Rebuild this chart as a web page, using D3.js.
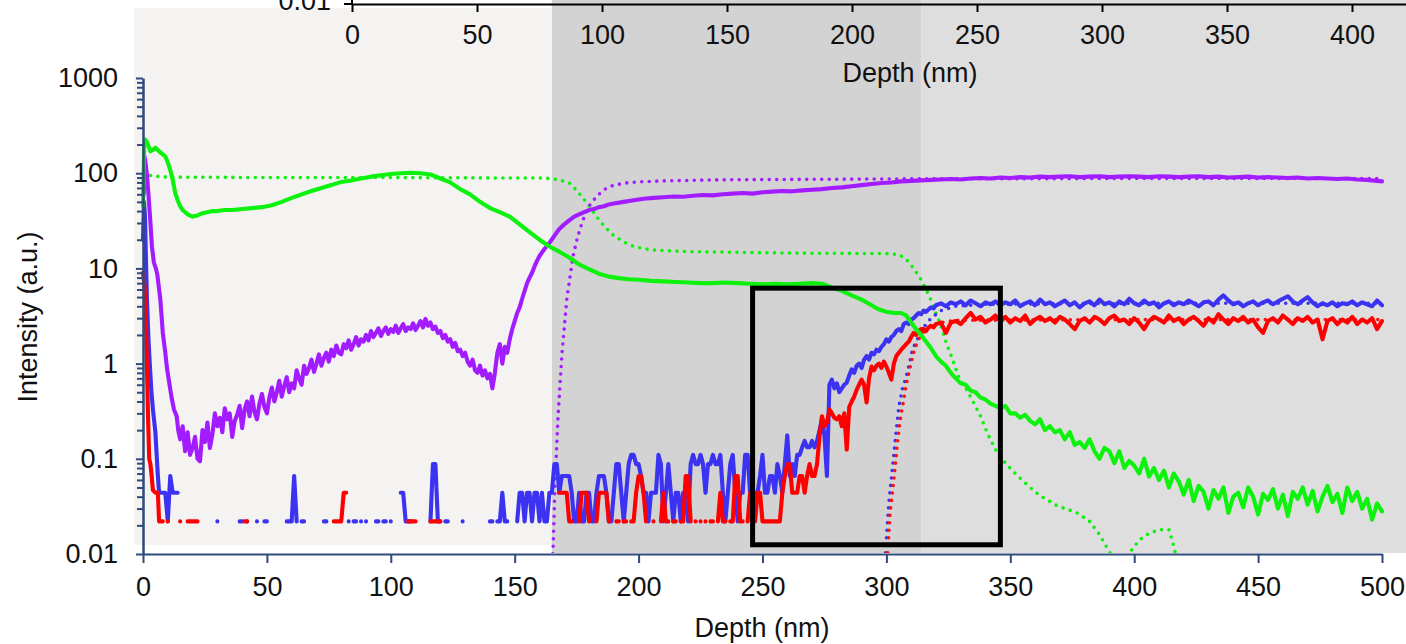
<!DOCTYPE html>
<html lang="en">
<head>
<meta charset="UTF-8">
<title>Depth profile</title>
<script src="https://d3js.org/d3.v7.min.js"></script>
<style>
  body { margin: 0; background: #ffffff; }
  text { font-family: "Liberation Sans", Arial, sans-serif; }
</style>
</head>
<body>
<script>
// ---- data (depth in nm, intensity in a.u.) ----
var xTicks = [0, 50, 100, 150, 200, 250, 300, 350, 400, 450, 500];
var topTicks = [0, 50, 100, 150, 200, 250, 300, 350, 400];
var yMajor = [0.01, 0.1, 1, 10, 100, 1000];
var yLabels = ["0.01", "0.1", "1", "10", "100", "1000"];

// shaded depth zones
var zoneEdges = [-3.6, 165, 314, 510];
var boxDepth = [246, 346];
var boxIntensity = [0.0125, 6.2];

var greenSolid = [[0,45],[0.5,200],[1,225],[2,200],[3,170],[4,175],[5,185],[6,175],[7,165],[8,158],[9,150],[10,130],[11,108],[12,85],[13,62],[14,52],[15,45],[16,41],[18,37],[20,35],[22,36],[24,38],[26,39],[28,40],[30,40],[33,41],[36,41],[40,42],[44,43],[48,44],[52,46],[56,50],[60,55],[64,60],[68,65],[72,70],[76,75],[80,81],[84,84],[88,88],[92,92],[96,95],[100,98],[104,100],[108,101],[112,100],[116,97],[120,88],[124,80],[128,68],[132,60],[136,50],[140,43],[144,39],[148,35],[152,29],[156,24],[160,20],[164,17],[168,15],[172,13],[176,11],[180,9.8],[184,8.8],[188,8.2],[192,7.9],[196,7.7],[200,7.6],[205,7.4],[210,7.3],[215,7.2],[220,7.1],[225,7.0],[230,7.0],[235,7.1],[240,7.0],[245,6.9],[250,6.8],[255,6.9],[260,6.8],[265,6.9],[270,7.0],[274,6.9],[278,6.3],[282,5.8],[286,5.2],[290,4.7],[294,4.1],[297,3.7],[300,3.5],[303,3.4],[306,3.4],[308,3.2],[310,2.7],[312,2.3],[314,2.0],[316,1.7],[318,1.45],[320,1.2],[322,1.05],[324,0.95],[326,0.8],[328,0.7],[330,0.62],[332,0.6],[334,0.52],[336,0.5],[338,0.44],[340,0.42],[342,0.38],[344,0.36],[346,0.34],[348,0.36],[350,0.3],[352,0.3],[354,0.27],[356,0.29],[358,0.25],[360,0.23],[362,0.26],[364,0.2],[366,0.22],[368,0.19],[370,0.2],[372,0.16],[374,0.19],[376,0.14],[378,0.15],[380,0.13],[382,0.16],[384,0.12],[386,0.1],[388,0.13],[390,0.12],[392,0.09],[394,0.12],[396,0.08],[398,0.095],[400,0.085],[402,0.07],[404,0.1],[406,0.065],[408,0.08],[410,0.06],[412,0.075],[414,0.05],[416,0.07],[418,0.058],[420,0.042],[422,0.06],[424,0.036],[426,0.052],[428,0.045],[430,0.03],[432,0.047],[434,0.038],[436,0.05],[438,0.027],[440,0.04],[442,0.044],[444,0.031],[446,0.05],[448,0.04],[450,0.026],[452,0.043],[454,0.037],[456,0.048],[458,0.03],[460,0.042],[462,0.025],[464,0.045],[466,0.038],[468,0.05],[470,0.033],[472,0.046],[474,0.028],[476,0.04],[478,0.052],[480,0.035],[482,0.043],[484,0.027],[486,0.05],[488,0.036],[490,0.045],[492,0.03],[494,0.038],[496,0.023],[498,0.034],[500,0.028]];

var greenModel = [[0,97],[5,93],[10,91],[50,90],[100,90],[150,89],[160,89],[164,88],[168,85],[172,79],[175,66],[178,53],[181,42],[183,35],[186,28],[190,22],[194,19],[198,17],[203,16],[207,15.5],[220,15],[260,14.5],[300,14.3],[305,14],[308,12.5],[311,10],[314,7.6],[317,5.3],[319,4],[322,2.5],[324,1.7],[327,1.05],[329,0.74],[333,0.5],[338,0.28],[341,0.18],[344,0.125],[348,0.09],[353,0.066],[358,0.05],[362,0.041],[369,0.032],[377,0.027],[382,0.022],[386,0.016],[390,0.0105],[393,0.0085],[396,0.0088],[399,0.011],[402,0.014],[406,0.0165],[410,0.018],[414,0.018],[416,0.012],[418,0.007],[420,0.004]];

var purpleSolid = [[0.3,60],[0.6,150],[1,130],[1.6,95],[2.2,60],[3,30],[3.6,17],[4.4,11.5],[5.2,10],[5.8,8.5],[6.5,6],[7,4.7],[8,2.1],[9,1.3],[9.6,0.93],[10.5,0.65],[11.6,0.43],[12.5,0.33],[13.6,0.28],[14.2,0.2],[15,0.16],[16,0.22],[17,0.12],[18,0.19],[19,0.11],[20,0.13],[21,0.17],[22,0.1],[23,0.094],[24,0.2],[25,0.15],[26,0.24],[27,0.13],[28,0.18],[29,0.3],[30,0.22],[31,0.27],[32,0.19],[33,0.34],[34,0.26],[35,0.3],[36,0.17],[37,0.25],[38,0.29],[39,0.36],[40,0.21],[41,0.33],[42,0.4],[43,0.28],[44,0.45],[45,0.31],[46,0.26],[47,0.38],[48,0.48],[49,0.35],[50,0.3],[51,0.44],[52,0.56],[53,0.4],[54,0.5],[55,0.66],[56,0.45],[57,0.58],[58,0.72],[59,0.5],[60,0.62],[61,0.55],[62,0.85],[63,0.7],[64,0.6],[65,0.95],[66,0.78],[67,0.9],[68,1.1],[69,0.82],[70,1.0],[71,1.25],[72,0.95],[73,1.15],[74,1.3],[75,1.05],[76,1.4],[77,1.2],[78,1.55],[79,1.3],[80,1.25],[81,1.6],[82,1.45],[83,1.75],[84,1.4],[85,1.6],[86,1.9],[87,1.55],[88,1.8],[89,1.7],[90,2.0],[91,1.75],[92,2.2],[93,1.9],[94,2.1],[95,2.35],[96,1.95],[97,2.2],[98,2.4],[99,2.05],[100,2.3],[101,2.15],[102,2.5],[103,2.1],[104,2.35],[105,2.6],[106,2.2],[107,2.4],[108,2.3],[109,2.65],[110,2.25],[111,2.5],[112,2.8],[113,2.4],[114,2.95],[115,2.5],[116,2.7],[117,2.3],[118,2.45],[119,2.1],[120,2.2],[121,1.85],[122,2.0],[123,1.7],[124,1.8],[125,1.5],[126,1.65],[127,1.35],[128,1.4],[129,1.2],[130,1.3],[131,1.05],[132,0.95],[133,1.1],[134,0.85],[135,0.8],[136,0.95],[137,0.75],[138,0.85],[139,0.7],[140,0.78],[141,0.55],[142,0.8],[143,1.3],[144,1.6],[145,1.0],[146,1.5],[147,1.3],[148,1.8],[149,2.3],[150,2.8],[151,3.4],[152,3.9],[153,4.8],[154,5.8],[155,7],[156,8],[157,9],[158,10.5],[159,12],[160,13.5],[162,16],[164,18.5],[166,22],[168,26],[170,29],[172,32],[174,35],[176,37],[178,39],[180,41],[182,42],[184,44],[186,45],[188,47],[190,48],[194,50],[198,52],[202,54],[206,55],[210,56],[214,57],[218,56.5],[222,58],[226,59],[230,58.5],[234,60],[238,61],[242,62],[246,61],[250,63],[254,64],[258,65],[262,64.5],[266,66],[270,67],[274,68],[278,70],[282,71],[286,73],[290,75],[294,77],[298,79],[302,80],[306,82],[310,83],[314,84],[318,85],[322,86],[326,87],[330,86],[334,88],[338,89],[342,88],[346,90],[350,89],[354,91],[358,90],[362,92],[366,91],[370,92],[374,93],[378,91],[382,92],[386,93],[390,91],[394,92],[398,93],[402,92],[406,91],[410,93],[414,92],[418,91],[422,92],[426,93],[430,91],[434,92],[438,90],[442,91],[446,92],[450,90],[454,91],[458,90],[462,89],[466,90],[470,88],[474,89],[478,88],[482,87],[486,88],[490,86],[494,85],[498,83],[500,82]];

var purpleModel = [[165,0.007],[165.5,0.0115],[166.3,0.057],[167.5,0.28],[169,1.2],[171,4.7],[173.5,13.3],[175.5,22],[177.5,32],[180,45],[183,57],[186,67],[190,75],[195,79],[200,81],[210,83],[230,85],[260,86],[300,87],[400,88],[500,88]];

// single-count level of the low-signal channels
var countUnit = 0.022;

var blueHead = [[0,20],[0.4,50],[0.8,35],[1.2,12],[1.6,4.7],[2.2,1.8],[2.8,0.93],[3.4,0.5],[4,0.33],[5,0.19],[5.6,0.1],[6,0.066],[6.5,0.044],[7,0.044]];
var blueCountStart = 8;
var blueCounts = [
  2,2,1,3,2,2,2,0,0,0, 0,0,0,0,0,0,0,0,0,0, 0,0,1,0,0,0,0,0,0,0,
  0,1,1,0,1,0,0,0,1,0, 0,1,1,0,0,0,0,0,0,0, 1,1,1,3,1,0,1,1,0,0,
  0,0,0,0,0,1,1,0,0,0, 0,0,0,0,0,1,0,1,1,0, 1,0,1,0,0,0,1,1,0,1,
  1,0,1,0,0,0,2,2,1,1, 1,0,0,0,0,0,0,0,1,4, 4,1,1,0,1,1,0,0,0,0,
  0,1,0,0,0,0,0,0,0,0, 0,0,1,1,0,1,1,2,1,1, 0,0,0,1,2,2,1,2,2,1,
  2,2,1,2,1,1,2,2,4,4, 2,3,3,3,3,2,1,1,2,1, 1,2,2,1,1,2,3,3,3,2,
  1,1,2,4,4,2,1,2,4,5, 5,4,4,3,2,2,1,2,2,2, 5,4,1,2,4,2,1,2,2,1,
  2,2,1,4,5,4,4,5,4,2, 4,4,5,4,4,5,2,1,2,4, 5,2,1,2,2,5,5,2,1,2,
  2,3,5,2,2,3,3,2,4,3, 2,4,8,3,4,3,5,5,6,7, 6,6,7,6,7,9,12,8,3];
var blueHigh = [[277,0.6],[278,0.68],[279,0.55],[280,0.62],[281,0.5],[282,0.55],[283,0.6],[284,0.63],[285,0.75],[286,0.87],[287,0.8],[288,0.95],[289,1.0],[290,0.9],[291,1.1],[292,1.2],[293,1.1],[294,1.3],[295,1.25],[296,1.4],[297,1.35],[298,1.5],[299,1.6],[300,1.8],[301,1.7],[302,1.9],[303,2.0],[304,2.2],[305,2.3],[306,2.2],[307,2.6],[308,2.7],[309,2.6],[310,2.9],[311,3.0],[312,3.2],[313,3.4],[314,3.3],[315,3.6],[316,3.5],[317,3.7],[318,3.9],[319,3.8],[320,4.1],[322,4.3],[324,4.0],[326,4.4],[328,4.2],[330,4.5],[332,4.1],[334,4.6],[336,4.3],[338,4.0],[340,4.4],[342,4.2],[344,4.5],[346,4.1],[348,4.4],[350,4.2],[352,4.6],[354,4.0],[356,4.3],[358,4.5],[360,4.1],[362,4.7],[364,4.2],[366,4.4],[368,4.0],[370,4.3],[372,4.6],[374,4.1],[376,4.4],[378,3.9],[380,4.3],[382,4.5],[384,4.1],[386,4.7],[388,4.2],[390,4.4],[392,4.0],[394,4.5],[396,4.2],[398,4.8],[400,4.3],[402,4.1],[404,4.6],[406,4.2],[408,4.4],[410,3.9],[412,4.3],[414,4.5],[416,4.1],[418,4.4],[420,4.2],[422,4.6],[424,4.3],[426,4.0],[428,4.4],[430,4.5],[432,4.1],[434,4.7],[436,5.2],[438,4.6],[440,4.2],[442,4.4],[444,4.0],[446,4.3],[448,4.5],[450,4.1],[452,4.4],[454,4.6],[456,4.2],[458,4.5],[460,4.8],[462,5.1],[464,4.5],[466,4.2],[468,4.6],[470,5.0],[472,4.4],[474,4.0],[476,4.3],[478,4.1],[480,4.4],[482,4.0],[484,4.3],[486,4.2],[488,4.5],[490,4.1],[492,4.4],[494,4.2],[496,4.0],[498,4.6],[500,4.1]];

var redHead = [[0,9],[0.5,7],[1,4.7],[1.5,1.2],[2,0.3],[2.5,0.1],[3,0.088],[3.5,0.066],[4,0.047],[5,0.044],[6,0.044],[6.5,0.022]];
var redCountStart = 7;
var redCounts = [
  1,1,0,1,0,0,0,0,1,0, 0,1,1,1,1,1,0,0,0,0, 0,0,0,0,0,0,0,0,0,0,
  0,0,0,0,1,1,0,0,0,0, 0,0,0,0,0,0,0,0,0,0, 0,0,0,0,0,0,0,0,0,0,
  0,0,0,0,0,0,0,0,0,0, 1,1,1,1,2,2,0,0,0,0, 0,0,0,0,0,0,0,0,0,0,
  0,0,0,0,0,0,0,0,0,0, 1,1,1,1,0,0,0,0,0,1, 1,1,1,1,0,0,0,0,0,0,
  0,0,0,0,0,0,0,0,0,0, 0,0,0,0,0,0,0,0,0,0, 0,0,0,0,0,0,0,0,0,0,
  0,0,0,0,0,0,0,0,0,0, 0,2,2,2,2,1,1,0,0,1, 2,2,2,1,0,0,1,2,2,2,
  2,1,0,0,1,1,0,1,1,0, 1,1,2,3,3,2,1,0,0,1, 0,0,1,2,1,1,0,1,1,0,
  1,1,3,3,1,0,1,0,1,0, 1,0,1,1,0,1,2,1,1,0, 1,1,3,3,1,1,0,1,2,1,
  1,2,2,1,1,1,1,1,1,1, 1,2,3,4,4,2,2,2,3,3, 2,3,4,3,3,4];
var redHigh = [[273,0.17],[274,0.28],[275,0.22],[276,0.24],[277,0.33],[278,0.3],[279,0.27],[280,0.26],[281,0.28],[282,0.22],[283,0.3],[284,0.125],[285,0.35],[286,0.4],[287,0.45],[288,0.53],[289,0.6],[290,0.68],[291,0.6],[292,0.39],[293,0.7],[294,0.93],[295,0.85],[296,0.95],[297,1.0],[298,0.9],[299,1.05],[300,0.93],[301,0.8],[302,0.68],[303,1.0],[304,1.2],[305,1.3],[306,1.4],[307,1.5],[308,1.6],[309,1.7],[310,1.9],[311,2.1],[312,2.0],[313,2.2],[314,2.3],[315,2.3],[316,2.2],[317,2.4],[318,2.5],[319,2.4],[320,2.6],[322,2.7],[324,2.1],[326,2.7],[328,2.8],[330,2.6],[332,3.0],[334,3.4],[336,2.9],[338,3.1],[340,2.7],[342,2.9],[344,3.2],[346,2.8],[348,3.1],[350,2.7],[352,3.0],[354,2.8],[356,3.2],[358,2.6],[360,2.9],[362,3.1],[364,2.8],[366,3.0],[368,2.7],[370,3.1],[372,2.9],[374,2.6],[376,2.3],[378,2.8],[380,3.0],[382,2.7],[384,3.1],[386,2.9],[388,2.6],[390,3.0],[392,3.2],[394,2.8],[396,2.9],[398,2.6],[400,3.0],[402,2.7],[404,2.3],[406,2.8],[408,3.1],[410,2.9],[412,2.7],[414,3.2],[416,2.8],[418,3.0],[420,2.6],[422,2.9],[424,3.1],[426,2.8],[428,2.5],[430,3.0],[432,2.7],[434,3.3],[436,2.9],[438,2.6],[440,3.0],[442,2.8],[444,3.1],[446,2.7],[448,2.9],[450,2.4],[452,2.1],[454,2.8],[456,3.0],[458,2.7],[460,3.2],[462,2.9],[464,2.6],[466,3.0],[468,2.8],[470,3.1],[472,2.7],[474,2.9],[476,1.8],[478,2.8],[480,3.0],[482,2.6],[484,2.9],[486,2.7],[488,3.1],[490,2.6],[492,2.9],[494,2.7],[496,3.0],[498,2.3],[500,2.8]];

var blueModel = [[299,0.005],[300,0.0143],[301,0.035],[302.5,0.083],[304,0.2],[305,0.35],[306.5,0.55],[308,0.73],[309.5,1.05],[310.5,1.4],[312,1.7],[313,1.9],[315,2.4],[318,3.0],[322,3.6],[328,4.0],[340,4.2],[400,4.3],[500,4.3]];
var redModel = [[299.5,0.005],[300.5,0.01],[301.5,0.027],[303,0.06],[304.5,0.15],[305.5,0.25],[307,0.42],[308,0.6],[309.5,0.9],[311,1.3],[312.5,1.7],[314,2.0],[316,2.3],[318,2.5],[322,2.7],[328,2.85],[400,2.9],[500,2.9]];

// ---- drawing ----
var W = 1406, H = 644;
var fontSize = 27;
var svg = d3.select("body").append("svg")
    .attr("width", W)
    .attr("height", H);

var x = d3.scaleLinear().domain([0, 500]).range([143, 1382]);
var y = d3.scaleLog().domain([0.01, 1000]).range([554, 78]);
var axisColor = "#2f4a7c";

// backgrounds
svg.append("rect").attr("x", 134).attr("y", 8)
    .attr("width", x(zoneEdges[1]) - 134).attr("height", 537).attr("fill", "#f4f3f2");
svg.append("rect").attr("x", x(zoneEdges[1])).attr("y", 0)
    .attr("width", x(zoneEdges[2]) - x(zoneEdges[1])).attr("height", 553).attr("fill", "#d3d3d3");
svg.append("rect").attr("x", x(zoneEdges[2])).attr("y", 0)
    .attr("width", W - x(zoneEdges[2])).attr("height", 553).attr("fill", "#dedede");

// piece of the upper chart's axis
var xTop = d3.scaleLinear().domain([0, 421.6]).range([352, 1406]);
var gTop = svg.append("g").attr("transform", "translate(0,4)")
    .call(d3.axisBottom(xTop).tickValues(topTicks).tickSize(8).tickSizeOuter(0).tickPadding(13));
gTop.select(".domain").attr("stroke", "#000").attr("stroke-width", 2);
gTop.selectAll(".tick line").attr("stroke", "#000").attr("stroke-width", 2);
gTop.selectAll(".tick text").attr("font-size", fontSize).attr("fill", "#111")
    .attr("font-family", "Liberation Sans, Arial, sans-serif");
svg.append("line").attr("x1", 352).attr("x2", 352).attr("y1", 0).attr("y2", 4)
    .attr("stroke", "#000").attr("stroke-width", 2);
svg.append("line").attr("x1", 344).attr("x2", 352).attr("y1", 4).attr("y2", 4)
    .attr("stroke", "#000").attr("stroke-width", 2);
svg.append("text").attr("x", 331).attr("y", 10).attr("text-anchor", "end")
    .attr("font-size", fontSize).attr("fill", "#111").text("0.01");
svg.append("text").attr("x", 910).attr("y", 82).attr("text-anchor", "middle")
    .attr("font-size", fontSize).attr("fill", "#111").text("Depth (nm)");

// data lines
svg.append("clipPath").attr("id", "plotClip")
  .append("rect").attr("x", 134).attr("y", 0).attr("width", W - 134).attr("height", 553);

var line = d3.line()
    .defined(function (d) { return d[1] != null && d[1] > 0; })
    .x(function (d) { return x(d[0]); })
    .y(function (d) { return y(d[1]); });

function fromCounts(start, counts) {
    return counts.map(function (c, i) { return [start + i, c > 0 ? c * countUnit : null]; });
}
var blueSolid = blueHead.concat(fromCounts(blueCountStart, blueCounts), blueHigh);
var redSolid = redHead.concat(fromCounts(redCountStart, redCounts), redHigh);

var series = [
    { data: greenModel, color: "#0cf20c", dotted: true },
    { data: purpleModel, color: "#a21cff", dotted: true },
    { data: blueModel, color: "#3c32f2", dotted: true },
    { data: redModel, color: "#ff1010", dotted: true },
    { data: blueSolid, color: "#3c32f2", dotted: false },
    { data: redSolid, color: "#ff0000", dotted: false },
    { data: purpleSolid, color: "#a21cff", dotted: false },
    { data: greenSolid, color: "#0cf20c", dotted: false }
];

var gData = svg.append("g").attr("clip-path", "url(#plotClip)");
gData.selectAll("path")
    .data(series)
    .enter()
    .append("path")
    .attr("d", function (d) { return line(d.data); })
    .attr("fill", "none")
    .attr("stroke", function (d) { return d.color; })
    .attr("stroke-width", function (d) { return d.dotted ? 3.6 : 4.1; })
    .attr("stroke-linecap", "round")
    .attr("stroke-linejoin", "round")
    .attr("stroke-dasharray", function (d) { return d.dotted ? "0,7.5" : null; });

// highlight box
svg.append("rect")
    .attr("x", x(boxDepth[0]))
    .attr("y", y(boxIntensity[1]))
    .attr("width", x(boxDepth[1]) - x(boxDepth[0]))
    .attr("height", y(boxIntensity[0]) - y(boxIntensity[1]))
    .attr("fill", "none")
    .attr("stroke", "#000")
    .attr("stroke-width", 5);

// axes
var yMinor = [];
yMajor.forEach(function (m, i) {
    if (i < yMajor.length - 1) {
        [2, 3, 4, 5, 6, 7, 8, 9].forEach(function (k) { yMinor.push(m * k); });
    }
});

var gx = svg.append("g").attr("transform", "translate(0,554)")
    .call(d3.axisBottom(x).tickValues(xTicks).tickSize(9).tickSizeOuter(0).tickPadding(14));
gx.select(".domain").attr("stroke", axisColor).attr("stroke-width", 2);
gx.selectAll(".tick line").attr("stroke", axisColor).attr("stroke-width", 2);
gx.selectAll(".tick text").attr("font-size", fontSize).attr("fill", "#111")
    .attr("font-family", "Liberation Sans, Arial, sans-serif");

var gyMinor = svg.append("g").attr("transform", "translate(143,0)")
    .call(d3.axisLeft(y).tickValues(yMinor).tickSize(6).tickFormat(""));
gyMinor.select(".domain").remove();
gyMinor.selectAll(".tick line").attr("stroke", axisColor).attr("stroke-width", 2);

var gy = svg.append("g").attr("transform", "translate(143,0)")
    .call(d3.axisLeft(y).tickValues(yMajor).tickSize(7).tickSizeOuter(0).tickPadding(18)
        .tickFormat(function (d, i) { return yLabels[i]; }));
gy.select(".domain").attr("stroke", axisColor).attr("stroke-width", 2.5);
gy.selectAll(".tick line").attr("stroke", axisColor).attr("stroke-width", 2);
gy.selectAll(".tick text").attr("font-size", fontSize).attr("fill", "#111")
    .attr("font-family", "Liberation Sans, Arial, sans-serif");

svg.append("text").attr("x", 762).attr("y", 637).attr("text-anchor", "middle")
    .attr("font-size", fontSize).attr("fill", "#111").text("Depth (nm)");
svg.append("text").attr("transform", "translate(37,317) rotate(-90)")
    .attr("text-anchor", "middle").attr("font-size", fontSize).attr("fill", "#111")
    .text("Intensity (a.u.)");
</script>
</body>
</html>
